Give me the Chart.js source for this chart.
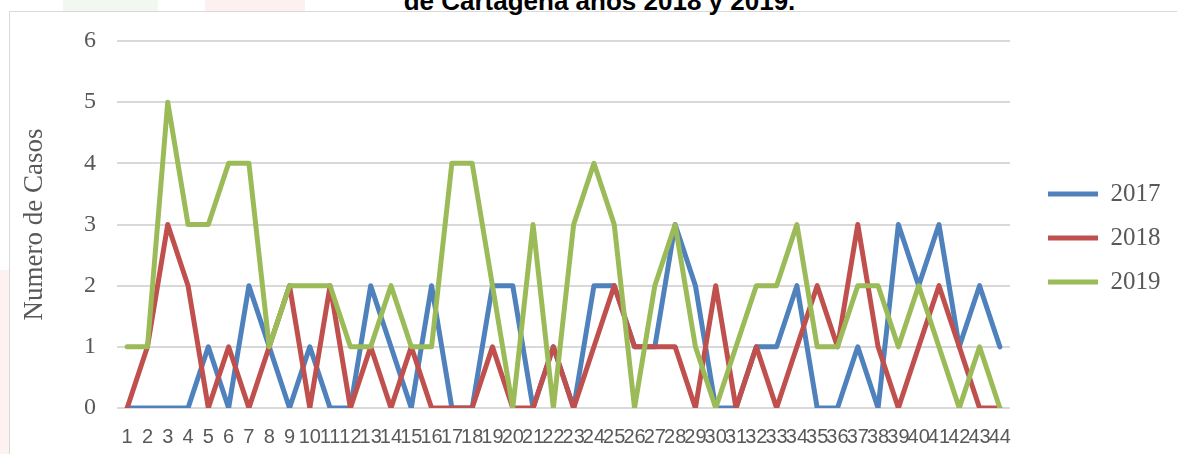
<!DOCTYPE html>
<html>
<head>
<meta charset="utf-8">
<script src="https://cdn.jsdelivr.net/npm/chart.js@4"></script>
<style>
  body { margin: 0; background: #fff; width: 1177px; height: 454px; overflow: hidden; position: relative; }
  .deco1 { position: absolute; left: 63px; top: 0; width: 95px; height: 11px; background: #f1f8ef; }
  .deco2 { position: absolute; left: 205px; top: 0; width: 100px; height: 11px; background: #fdf0f0; }
  .deco3 { position: absolute; left: 0; top: 270px; width: 9px; height: 184px; background: #fdf2f0; }
  #frame { position: absolute; left: 9px; top: 11px; width: 1200px; height: 500px; border: 1.5px solid #d9d9d9; }
  #title { position: absolute; left: 0; width: 1177px; top: -12px; text-align: center; padding-left: 22px; box-sizing: border-box;
           font: bold 26px "Liberation Sans", Arial, sans-serif; line-height: 26px; color: #000; }
  #wrap { position: absolute; left: 0; top: 0; width: 1177px; height: 454px; }
</style>
</head>
<body>
<div class="deco1"></div><div class="deco2"></div><div class="deco3"></div>
<div id="frame"></div>
<div id="title">de Cartagena años 2018 y 2019.</div>
<div id="wrap"><canvas id="myChart"></canvas></div>
<script>
const ctx = document.getElementById('myChart').getContext('2d');

// numero de casos por semana
const weeks = ['1','2','3','4','5','6','7','8','9','10','11','12','13','14','15','16','17','18','19','20','21','22',
  '23','24','25','26','27','28','29','30','31','32','33','34','35','36','37','38','39','40','41','42','43','44'];
const cases2017 = [0,0,0,0,1,0,2,1,0,1, 0,0,2,1,0,2,0,0,2,2, 0,1,0,2,2,1,1,3,2,0, 0,1,1,2,0,0,1,0,3,2, 3,1,2,1];
const cases2018 = [0,1,3,2,0,1,0,1,2,0, 2,0,1,0,1,0,0,0,1,0, 0,1,0,1,2,1,1,1,0,2, 0,1,0,1,2,1,3,1,0,1, 2,1,0,0];
const cases2019 = [1,1,5,3,3,4,4,1,2,2, 2,1,1,2,1,1,4,4,2,0, 3,0,3,4,3,0,2,3,1,0, 1,2,2,3,1,1,2,2,1,2, 1,0,1,0];
const yTicks = [0,1,2,3,4,5,6];

const serif = '"Liberation Serif", "Times New Roman", serif';
const grey = '#595959';

function makeSet(label, data, color, order) {
    return {
        label: label,
        data: data,
        borderColor: color,
        backgroundColor: color,
        borderWidth: 5,
        borderCapStyle: 'round',
        borderJoinStyle: 'round',
        pointRadius: 0,
        tension: 0,
        order: order
    };
}

// move the legend a bit away from the plot, like the original
const legendShift = {
    id: 'legendShift',
    afterInit(chart) {
        const lg = chart.legend;
        const fit = lg.fit;
        lg.fit = function () {
            fit.call(this);
            this.width = 167;
        };
    },
    afterLayout(chart) {
        chart.legend.left += 19;
        chart.legend.top -= 6;
        chart.legend.bottom -= 6;
    }
};

new Chart(ctx, {
    type: 'line',
    data: {
        labels: weeks,
        datasets: [
            makeSet('2017', cases2017, '#4F81BD', 2),
            makeSet('2018', cases2018, '#C0504D', 1),
            makeSet('2019', cases2019, '#9BBB59', 0)
        ]
    },
    options: {
        responsive: true,
        maintainAspectRatio: false,
        animation: false,
        layout: { padding: { left: 11, top: 41, right: 0, bottom: 7 } },
        plugins: {
            title: { display: false },
            tooltip: { enabled: false },
            legend: {
                position: 'right',
                labels: {
                    usePointStyle: true,
                    pointStyle: 'line',
                    pointStyleWidth: 50,
                    padding: 19,
                    color: grey,
                    font: { family: serif, size: 25 },
                    sort: (a, b) => a.datasetIndex - b.datasetIndex
                }
            }
        },
        scales: {
            x: {
                offset: true,
                afterFit: (scale) => { scale.height = 39; },
                grid: { display: false, drawTicks: false },
                border: { display: false },
                ticks: {
                    autoSkip: false,
                    maxRotation: 0,
                    padding: 17,
                    color: grey,
                    font: { family: '"Liberation Sans Narrow", "Liberation Sans", Arial, sans-serif', size: 20 }
                }
            },
            y: {
                min: 0,
                max: 6,
                afterFit: (scale) => { scale.width = 106; },
                afterBuildTicks: (scale) => { scale.ticks = yTicks.map(v => ({ value: v })); },
                grid: { color: '#d9d9d9', lineWidth: 2, drawTicks: false },
                border: { display: false },
                ticks: {
                    padding: 21,
                    color: grey,
                    font: { family: serif, size: 24 }
                },
                title: {
                    display: true,
                    text: 'Numero de Casos',
                    color: grey,
                    padding: { top: 8, bottom: 0 },
                    font: { family: serif, size: 27 }
                }
            }
        }
    },
    plugins: [legendShift]
});
</script>
</body>
</html>
